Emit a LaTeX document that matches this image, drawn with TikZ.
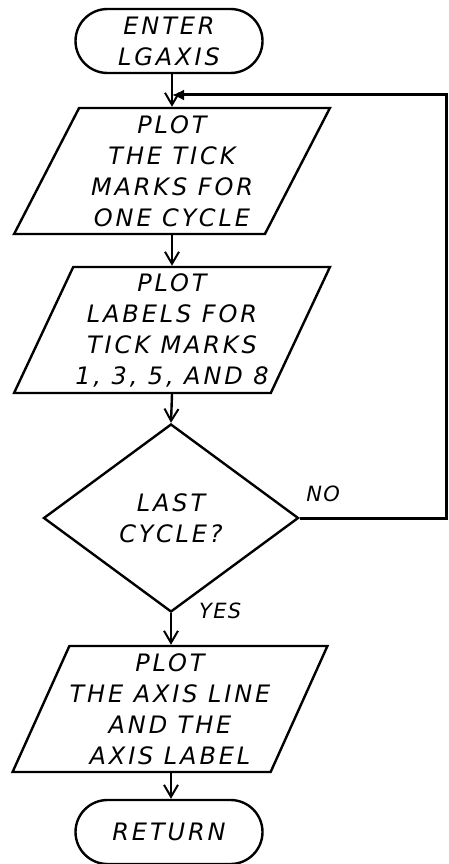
\documentclass[tikz,border=0pt]{standalone}
\usepackage{fontspec}
\setmainfont{DejaVu Sans}
\usepackage{tikz}
\usetikzlibrary{arrows.meta,shapes.geometric,shapes.misc,positioning}
\tikzstyle{arrow} = [line width=2.4pt,-{Straight Barb[length=12pt,width=14pt,line width=2pt]}]

\begin{document}
\begin{tikzpicture}[x=1pt, y=-1pt,
    every node/.style={font=\itshape\addfontfeatures{LetterSpace=12}\fontsize{24}{31}\selectfont},
    terminal/.style={rounded rectangle, draw, line width=2.4pt, minimum width=187pt, minimum height=64pt, align=center, inner sep=0pt},
    iobox/.style={trapezium, trapezium left angle=63, trapezium right angle=117, trapezium stretches=true, draw, line width=2.4pt, minimum width=316pt, minimum height=126pt, align=center, inner sep=0pt},
    decision/.style={diamond, draw, line width=2.4pt, minimum width=255pt, minimum height=188pt, align=center, inner sep=0pt},
    tag/.style={font=\itshape\addfontfeatures{LetterSpace=6}\fontsize{21}{24}\selectfont, inner sep=0pt}]

\useasboundingbox (0,0) rectangle (448,864);

% Start and end
\node[terminal] (enter) at (169,41) {ENTER\\LGAXIS};
\node[terminal] (return) at (169,832) {RETURN};

% Output steps
\node[iobox] (ticks) at (172,171) {PLOT\\THE TICK\\MARKS FOR\\ONE CYCLE};
\node[iobox] (labels) at (172,330) {PLOT\\LABELS FOR\\TICK MARKS\\1, 3, 5, AND 8};
\node[iobox] (axis) at (170,709) {PLOT\\THE AXIS LINE\\AND THE\\AXIS LABEL};

% Test
\node[decision] (last) at (171,518) {LAST\\CYCLE?};

% Loop point
\coordinate (join) at (172,95);

% Flow
\draw[line width=2.4pt] (enter.south -| join) -- (join);
\draw[arrow] (join) -- (ticks.north -| join);
\draw[arrow] (ticks.south -| join) -- (labels.north -| join);
\draw[arrow] (labels.south -| join) -- (last.north);
\draw[arrow] (last.south) -- node[tag, right=27pt, pos=0, yshift=2pt] {YES} (axis.north -| last.south);
\draw[arrow] (axis.south -| last.south) -- (return.north -| last.south);

% Back to the top
\draw[line width=3pt, -{Latex[length=12pt,width=11pt]}] (last.east) -- node[tag, above=15pt, pos=0.16] {NO} ++(147,0) |- (join);

\end{tikzpicture}
\end{document}
